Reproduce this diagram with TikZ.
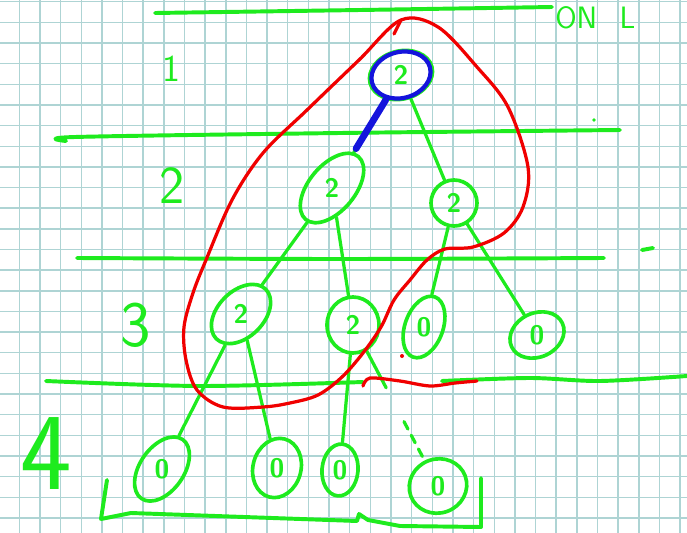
\documentclass[tikz,border=0pt]{standalone}
\usepackage{tikz}
\usetikzlibrary{shapes.geometric,calc}
\definecolor{penGreen}{HTML}{1EEB1E}
\definecolor{penRed}{HTML}{F00000}
\definecolor{penBlue}{HTML}{1414DC}
\definecolor{gridTeal}{HTML}{AED4D4}

\begin{document}
\begin{tikzpicture}[x=0.025cm, y=-0.025cm, line cap=round, line join=round,
  pen/.style={draw=penGreen, line width=2.8pt},
  edge/.style={draw=penGreen, line width=2.3pt},
  redpen/.style={draw=penRed, line width=2.3pt},
  vtx/.style={ellipse, draw=penGreen, line width=2.6pt, inner sep=0pt},
  dims/.style 2 args={minimum width=#1*0.025cm, minimum height=#2*0.025cm},
  digitlab/.style={text=penGreen, inner sep=0pt, font=\sffamily\bfseries\fontsize{19}{19}\selectfont},
  digit/.style={label={[digitlab]center:#1}},
  lvl/.style={text=penGreen, inner sep=0pt, font=\sffamily}]
% paper: 687 x 533, one unit = one pixel, y running down
\useasboundingbox (0,0) rectangle (687,533);
\fill[white] (0,0) rectangle (687,533);
% ---------------- squared paper ----------------
\foreach \gx in {0,...,32} \draw[gridTeal, line width=1pt] ({19.3+20.65*\gx},0) -- ++(0,533);
\foreach \gy in {0,...,25} \draw[gridTeal, line width=1pt] (0,{1.7+20.65*\gy}) -- ++(687,0);
% ---------------- level rules ----------------
\draw[pen] plot[smooth] coordinates {(155,13) (360,10) (552,7)};
\draw[pen] plot[smooth] coordinates {(66,141) (75,137) (340,133) (620,130)};
\draw[pen] plot[smooth] coordinates {(77,258) (340,259) (604,258)};
\draw[pen] plot[smooth] coordinates {(46,381) (200,386) (363,382)};
\draw[pen] plot[smooth] coordinates {(442,381) (530,378) (600,381) (687,376)};
\fill[penGreen] (594,120) circle (1.8);
\draw[pen] (642,250) -- (653,248);
% level numbers and heading
\node[lvl, font=\sffamily\fontsize{27}{27}\selectfont] (lab1) at (171,69) {1};
\node[lvl, font=\sffamily\fontsize{38}{38}\selectfont] (lab2) at (172,186) {2};
\node[lvl, font=\sffamily\fontsize{46}{46}\selectfont] (lab3) at (136,325) {3};
\node[lvl, font=\sffamily\fontsize{78}{78}\selectfont] (lab4) at (46,454) {4};
\node[lvl, anchor=base west, font=\sffamily\fontsize{22}{22}\selectfont] (head) at (555,28) {ON\hspace{16pt}L};
% ---------------- the tree ----------------
\node[vtx, dims={64}{48}, rotate=15, digit=2] (root) at (401,75) {};
\node[vtx, dims={82}{46}, rotate=50, digit=2] (l2a) at (332,188) {};
\node[vtx, dims={46}{46}, digit=2] (l2b) at (454,203) {};
\node[vtx, dims={70}{46}, rotate=45, digit=2] (l3a) at (241,314) {};
\node[vtx, dims={52}{56}, digit=2] (l3b) at (353,325) {};
\node[vtx, dims={38}{64}, rotate=-20, digit=0] (l3c) at (424,327) {};
\node[vtx, dims={56}{44}, rotate=25, digit=0] (l3d) at (537,335) {};
\node[vtx, dims={72}{44}, rotate=55, digit=0] (l4a) at (162,469) {};
\node[vtx, dims={48}{60}, rotate=-15, digit=0] (l4b) at (277,468) {};
\node[vtx, dims={36}{52}, rotate=-5, digit=0] (l4c) at (340,470) {};
\node[vtx, dims={58}{54}, rotate=20, digit=0] (l4d) at (438,486) {};
\draw[edge] (root) -- (l2a);
\draw[edge] (root) -- (l2b);
\draw[edge] (l2a) -- (l3a);
\draw[edge] (l2a) -- (l3b);
\draw[edge] (l2b) -- (l3c);
\draw[edge] (l2b) -- (l3d);
\draw[edge] (l3a) -- (l4a);
\draw[edge] (l3a) -- (l4b);
\draw[edge] (l3b) -- (l4c);
% broken edge: solid stub, gap, then dashes
\coordinate (brk) at ($(l3b)!0.39!(l4d)$);
\coordinate (resume) at ($(l3b)!0.6!(l4d)$);
\draw[edge] (l3b) -- (brk);
\draw[edge, dash pattern=on 6pt off 5pt] (resume) -- (l4d);
% ---------------- blue: chosen root and path ----------------
\draw[penBlue, line width=3pt, rotate around={15:(root.center)}] (root.center) ellipse (30 and 23);
\draw[penBlue, line width=4.8pt, shorten >=3pt] (root) -- (l2a);
% ---------------- red loop ----------------
\draw[redpen] plot[smooth cycle, tension=0.55] coordinates {(401,20) (438,27) (477,67) (508,107)
  (528,167) (523,207) (504,233) (473,247) (445,249) (427,260) (410,280) (394,300) (381,327)
  (363,353) (342,377) (318,395) (290,403) (263,407) (223,407) (197,390) (186,360) (184,327)
  (193,293) (206,260) (232,200) (263,153) (307,110) (359,60)};
\draw[redpen] (394,34) -- (401,20);
\draw[redpen] plot[smooth] coordinates {(363,386) (370,378) (400,381) (430,386) (455,383) (477,381)};
\fill[penRed] (402,356) circle (2);
% ---------------- bottom bracket ----------------
\draw[pen] (107,480) -- (101,519) -- (131,513) -- (357,521) -- (359,514) -- (368,520)
  -- (400,526) -- (481,527) -- (481,478);
\end{tikzpicture}
\end{document}
